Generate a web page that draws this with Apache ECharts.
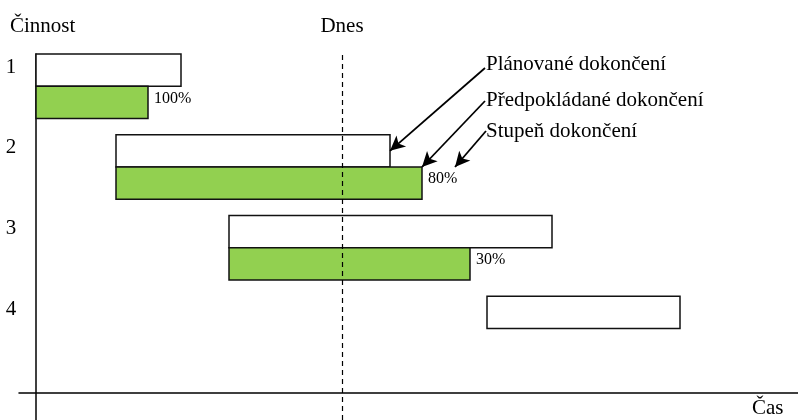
<!DOCTYPE html>
<html>
<head>
<meta charset="utf-8">
<script src="https://cdn.jsdelivr.net/npm/echarts@6/dist/echarts.min.js"></script>
<style>
  html, body { margin: 0; padding: 0; background: #fff; }
  #chart { width: 798px; height: 420px; }
</style>
</head>
<body>
<div id="chart"></div>
<script>
// Activities and their time line (time units along the horizontal axis)
const activities   = ['1', '2', '3', '4'];
const plannedStart = [0, 8.0, 19.3, 45.1];
const plannedEnd   = [14.5, 35.4, 51.6, 64.4];
const expectedEnd  = [11.2, 38.6, 43.4, null];
const completion   = [100, 80, 30, null];
const today = 30.6;

// Annotation texts
const notes = ['Plánované dokončení', 'Předpokládané dokončení', 'Stupeň dokončení'];
const axisTitles = { y: 'Činnost', x: 'Čas', today: 'Dnes' };

const FONT = '"Liberation Serif", "Times New Roman", Times, serif';
const GREEN = '#92d050';
const n = activities.length;
// Row level: boundary between the planned bar (above) and the expected bar (below)
const levelOf = i => n - 0.2 - i;

const rows = activities.map((a, i) => [
  plannedStart[i],
  plannedEnd[i],
  expectedEnd[i] == null ? NaN : expectedEnd[i],
  levelOf(i),
  completion[i] == null ? NaN : completion[i],
  i
]);

function renderRow(params, api) {
  const lvl = api.value(3);
  const p0 = api.coord([api.value(0), lvl]);
  const p1 = api.coord([api.value(1), lvl]);
  const h = api.size([0, 0.4])[1];
  const base = p0[1];
  const children = [];
  children.push({
    type: 'rect',
    shape: { x: p0[0], y: base - h, width: p1[0] - p0[0], height: h },
    style: { fill: '#fff', stroke: '#111', lineWidth: 1.5 }
  });
  const e = api.value(2);
  if (!isNaN(e)) {
    const xe = api.coord([e, lvl])[0];
    children.push({
      type: 'rect',
      shape: { x: p0[0], y: base, width: xe - p0[0], height: h },
      style: { fill: GREEN, stroke: '#111', lineWidth: 1.5 }
    });
    children.push({
      type: 'text',
      style: {
        text: api.value(4) + '%', x: xe + 6, y: base + h / 2 - 4,
        align: 'left', verticalAlign: 'middle',
        fontSize: 16, fontFamily: FONT, fill: '#000'
      }
    });
  }
  const axisX = api.coord([0, 0])[0];
  children.push({
    type: 'text',
    style: {
      text: activities[api.value(5)], x: axisX - 25, y: base - h / 2 - 3,
      align: 'center', verticalAlign: 'middle',
      fontSize: 21, fontFamily: FONT, fill: '#000'
    }
  });
  return { type: 'group', children };
}

const arrowLine = { color: '#000', width: 1.8, type: 'solid' };

const option = {
  animation: false,
  backgroundColor: '#fff',
  grid: { left: 19, right: 0, top: 54, bottom: 0 },
  xAxis: {
    type: 'value', min: -1.7, max: 76.2,
    axisLine: { show: true, onZero: true, lineStyle: { color: '#000', width: 1.5 } },
    axisTick: { show: false }, axisLabel: { show: false }, splitLine: { show: false }
  },
  yAxis: {
    type: 'value', min: -0.3345, max: 4.2,
    axisLine: { show: true, onZero: true, lineStyle: { color: '#000', width: 1.5 } },
    axisTick: { show: false }, axisLabel: { show: false }, splitLine: { show: false }
  },
  graphic: [
    { type: 'text', x: 10, y: 26.5, style: { text: axisTitles.y, fontSize: 21, fontFamily: FONT, fill: '#000', align: 'left', verticalAlign: 'middle' } },
    { type: 'text', x: 752, y: 408.5, style: { text: axisTitles.x, fontSize: 21, fontFamily: FONT, fill: '#000', align: 'left', verticalAlign: 'middle' } },
    { type: 'text', x: 486, y: 64, style: { text: notes[0], fontSize: 21, fontFamily: FONT, fill: '#000', align: 'left', verticalAlign: 'middle' } },
    { type: 'text', x: 486, y: 100, style: { text: notes[1], fontSize: 21, fontFamily: FONT, fill: '#000', align: 'left', verticalAlign: 'middle' } },
    { type: 'text', x: 486, y: 131, style: { text: notes[2], fontSize: 21, fontFamily: FONT, fill: '#000', align: 'left', verticalAlign: 'middle' } }
  ],
  series: [
    {
      // today marker and annotation arrows, drawn beneath the bars
      type: 'line', data: [], z: 1, silent: true,
      markLine: {
        silent: true, animation: false,
        symbol: ['none', 'none'],
        data: [
          {
            xAxis: today,
            lineStyle: { color: '#000', width: 1.2, type: [5, 4] },
            label: { show: true, position: 'end', distance: 17, formatter: axisTitles.today,
                     fontSize: 21, fontFamily: FONT, color: '#000' }
          },
          [
            { x: 485, y: 68, lineStyle: arrowLine, label: { show: false } },
            { coord: [plannedEnd[1], levelOf(1) + 0.2], symbol: 'arrow', symbolSize: [11, 15] }
          ],
          [
            { x: 485, y: 101, lineStyle: arrowLine, label: { show: false } },
            { coord: [expectedEnd[1], levelOf(1)], symbol: 'arrow', symbolSize: [11, 15] }
          ],
          [
            { x: 486, y: 131, lineStyle: arrowLine, label: { show: false } },
            { coord: [expectedEnd[1] + 3.3, levelOf(1)], symbol: 'arrow', symbolSize: [11, 15] }
          ]
        ]
      }
    },
    {
      type: 'custom', z: 3,
      renderItem: renderRow,
      encode: { x: [0, 1], y: 3 },
      data: rows
    }
  ]
};

const chart = echarts.init(document.getElementById('chart'), null, { renderer: 'canvas' });
chart.setOption(option);
</script>
</body>
</html>
